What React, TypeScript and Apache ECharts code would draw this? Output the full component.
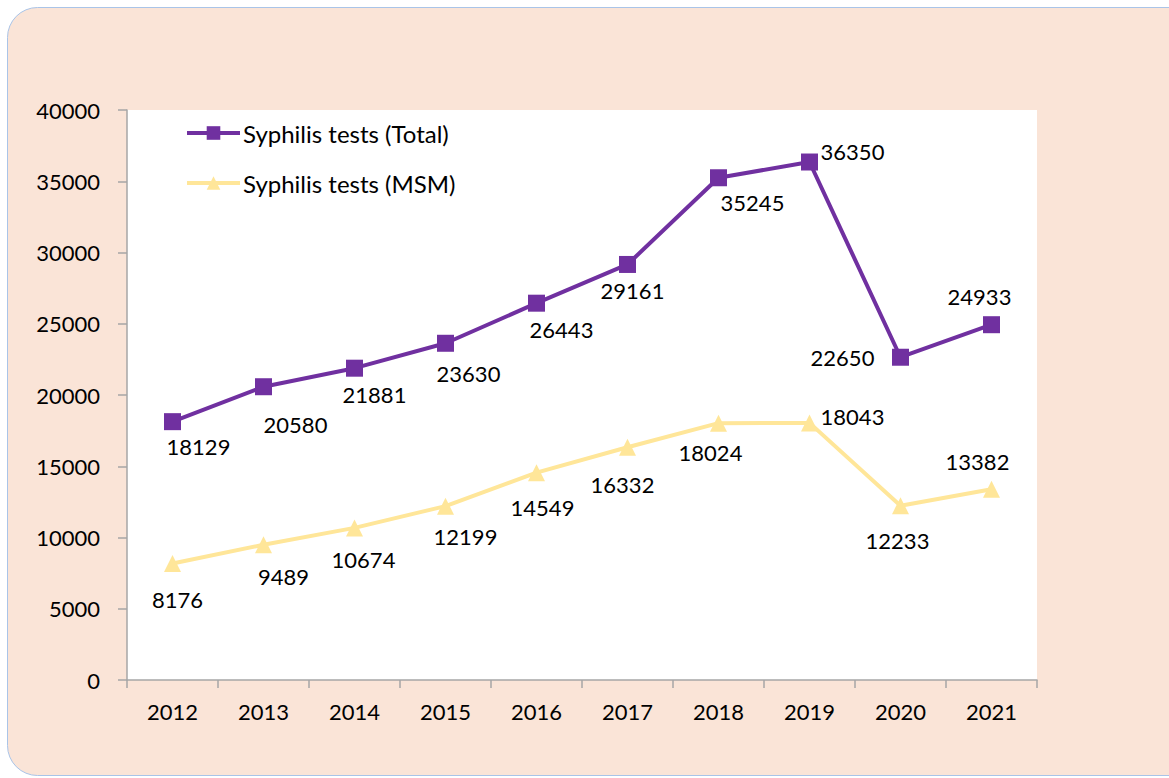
import React, { useEffect, useRef } from "react";
import * as echarts from "echarts";

const years = ["2012", "2013", "2014", "2015", "2016", "2017", "2018", "2019", "2020", "2021"];
const totalTests = [18129, 20580, 21881, 23630, 26443, 29161, 35245, 36350, 22650, 24933];
const msmTests = [8176, 9489, 10674, 12199, 14549, 16332, 18024, 18043, 12233, 13382];

// label placement (pixel offsets from each marker centre)
const totalLabelOffsets = [[26, 25], [32, 38], [20, 26], [23, 30], [25, 26], [5, 26], [34, 25], [43, -11], [-58, 0], [-12, -28]];
const msmLabelOffsets = [[5, 36], [20, 32], [9, 32], [20, 30], [6, 35], [-5, 37], [-8, 29], [43, -6], [-3, 35], [-14, -28]];

const FONT = "Lato, 'Open Sans', sans-serif";

export default function App() {
  const ref = useRef<HTMLDivElement>(null);
  useEffect(() => {
    if (!ref.current) return;
    const chart = echarts.init(ref.current, undefined, { renderer: "svg" });
    const mk = (vals: number[], offs: number[][]) =>
      vals.map((v, i) => ({
        value: v,
        label: {
          show: true,
          position: "inside",
          offset: offs[i],
          align: "center",
          verticalAlign: "middle",
          color: "#000",
          fontSize: 22,
          fontFamily: FONT,
        },
      }));
    chart.setOption({
      animation: false,
      backgroundColor: "#ffffff",
      textStyle: { fontFamily: FONT },
      graphic: [
        {
          type: "rect",
          z: -10,
          silent: true,
          shape: { x: 7.5, y: 7.5, width: 1220, height: 768, r: 30 },
          style: { fill: "#fae4d7", stroke: "#a9c4e8", lineWidth: 1 },
        },
      ],
      grid: {
        left: 127,
        right: 132,
        top: 110,
        bottom: 98,
        show: true,
        backgroundColor: "#ffffff",
        borderWidth: 0,
      },
      legend: {
        orient: "vertical",
        left: 180,
        top: 116,
        itemWidth: 53,
        itemHeight: 17,
        itemGap: 26,
        lineStyle: { width: 4 },
        textStyle: { fontSize: 24, fontFamily: FONT, color: "#000", lineHeight: 22, padding: [0, 0, 0, -2] },
        data: ["Syphilis tests (Total)", "Syphilis tests (MSM)"],
      },
      xAxis: {
        type: "category",
        data: years,
        boundaryGap: true,
        axisLine: { lineStyle: { color: "#a6a6a6", width: 1.5 } },
        axisTick: { show: true, length: 8, alignWithLabel: false, lineStyle: { color: "#a6a6a6", width: 1.5 } },
        axisLabel: { fontSize: 22, color: "#000", fontFamily: FONT, margin: 20 },
        splitLine: { show: false },
      },
      yAxis: {
        type: "value",
        min: 0,
        max: 40000,
        interval: 5000,
        axisLine: { show: true, lineStyle: { color: "#a6a6a6", width: 1.5 } },
        axisTick: { show: true, length: 9, lineStyle: { color: "#a6a6a6", width: 1.5 } },
        axisLabel: { fontSize: 22, color: "#000", fontFamily: FONT, margin: 27, formatter: (v: number) => String(v) },
        splitLine: { show: false },
      },
      series: [
        {
          name: "Syphilis tests (Total)",
          type: "line",
          data: mk(totalTests, totalLabelOffsets),
          symbol: "rect",
          symbolSize: 17,
          lineStyle: { color: "#7030a0", width: 4 },
          itemStyle: { color: "#7030a0" },
          z: 3,
        },
        {
          name: "Syphilis tests (MSM)",
          type: "line",
          data: mk(msmTests, msmLabelOffsets),
          symbol: "triangle",
          symbolSize: 17,
          lineStyle: { color: "#ffe699", width: 4 },
          itemStyle: { color: "#ffe699" },
          z: 2,
        },
      ],
    });
    return () => chart.dispose();
  }, []);
  return (
    <div
      ref={ref}
      style={{ position: "fixed", left: 0, top: 0, width: 1169, height: 778 }}
    />
  );
}
